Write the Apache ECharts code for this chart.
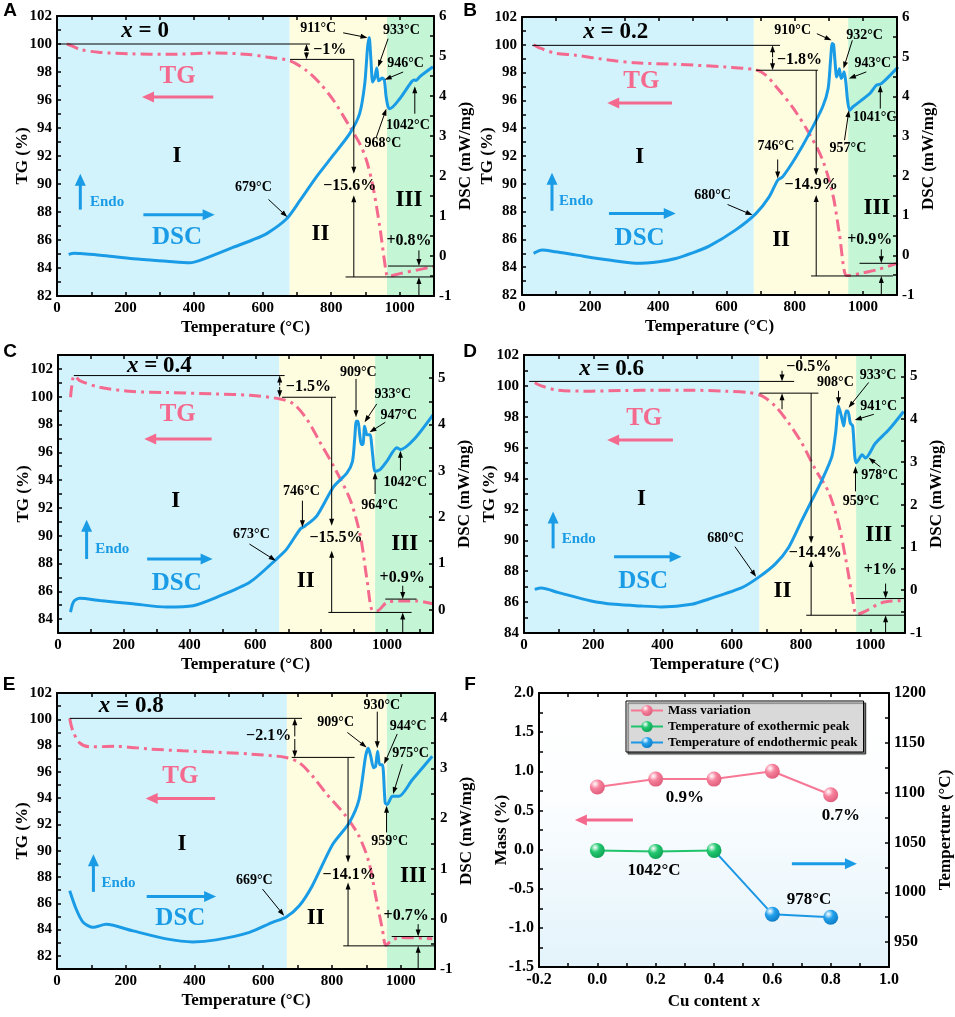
<!DOCTYPE html>
<html lang="en">
<head>
<meta charset="UTF-8">
<title>TG-DSC</title>
<script src="https://cdn.jsdelivr.net/npm/echarts@6/dist/echarts.min.js"></script>
<style>
    html, body { margin: 0; padding: 0; background: #fff; }
    #main { width: 955px; height: 1017px; }
</style>
</head>
<body>
<div id="main"></div>
<script>
// ---------- data ----------
// TG (%) and DSC (mW/mg) vs temperature (°C)
var tgA = [[29,100.0],[45,99.85],[68,99.6],[126,99.4],[220,99.3],[320,99.26],[466,99.36],[560,99.25],[612,99.07],[680,98.8],[728,98.1],[767,97.2],[806,96.0],[854,94.1],[883,92.9],[903,91.7],[922,89.8],[942,86.9],[961,83.6],[966,83.4],[1000,83.6],[1050,83.85],[1097,84.1]];
var dscA = [[34,0.04],[50,0.07],[68,0.06],[126,0.02],[223,-0.07],[320,-0.13],[388,-0.17],[417,-0.11],[515,0.22],[570,0.4],[612,0.56],[670,0.93],[709,1.39],[757,1.98],[806,2.52],[854,3.06],[883,3.56],[898,4.31],[906,5.2],[911,5.46],[916,4.9],[921,4.35],[927,4.45],[933,4.7],[938,4.38],[942,4.4],[948,4.45],[955,4.4],[960,4.0],[966,3.73],[971,3.68],[1000,3.93],[1034,4.35],[1042,4.4],[1048,4.39],[1058,4.48],[1097,4.73]];

var tgB = [[34,100.0],[49,99.8],[98,99.4],[157,99.25],[255,98.9],[333,98.7],[451,98.6],[598,98.4],[686,98.2],[716,97.8],[745,97.0],[794,95.5],[843,93.6],[882,91.7],[912,89.2],[931,86.4],[951,83.4],[961,83.4],[1000,83.6],[1039,83.8],[1103,84.3]];
var dscB = [[34,0.05],[59,0.13],[98,0.09],[157,0.01],[255,-0.12],[333,-0.2],[402,-0.16],[451,-0.08],[500,0.06],[549,0.23],[627,0.64],[686,1.05],[725,1.47],[750,1.89],[765,1.98],[804,2.48],[843,3.07],[882,3.74],[898,4.2],[905,4.9],[910,5.33],[914,5.3],[918,4.9],[923,4.49],[928,4.6],[931,4.7],[936,4.45],[940,4.5],[945,4.62],[950,4.35],[955,3.9],[961,3.65],[971,3.74],[1020,4.07],[1039,4.28],[1054,4.32],[1103,4.74]];

var tgC = [[38,99.96],[45,101.3],[50,101.5],[66,101.16],[127,100.68],[228,100.37],[330,100.3],[482,100.2],[584,100.1],[675,99.84],[716,99.48],[756,98.4],[797,96.7],[838,95.0],[888,92.6],[919,90.0],[939,86.9],[957,84.6],[970,84.6],[1000,85.2],[1041,85.3],[1091,85.3],[1140,85.1]];
var dscC = [[38,-0.05],[44,0.12],[50,0.2],[66,0.25],[127,0.2],[228,0.13],[330,0.06],[411,0.09],[482,0.27],[584,0.6],[665,1.1],[695,1.31],[736,1.74],[751,1.81],[787,2.03],[838,2.66],[878,2.95],[895,3.2],[902,3.7],[907,4.07],[912,4.07],[917,3.8],[922,3.57],[927,3.57],[932,3.96],[936,3.85],[939,3.78],[949,3.78],[953,3.6],[957,3.32],[964,2.99],[980,3.03],[1000,3.21],[1030,3.5],[1041,3.46],[1081,3.67],[1140,4.21]];

var tgD = [[31,100.2],[50,100.0],[98,99.72],[194,99.66],[291,99.7],[388,99.72],[484,99.72],[581,99.66],[648,99.57],[687,99.35],[725,98.7],[764,97.6],[802,96.3],[841,94.6],[880,93.1],[908,91.1],[928,88.9],[947,86.5],[961,85.2],[985,85.4],[1034,85.97],[1096,86.1]];
var dscD = [[31,0.02],[50,0.05],[98,-0.05],[194,-0.25],[262,-0.33],[339,-0.37],[397,-0.39],[484,-0.33],[532,-0.21],[629,0.06],[677,0.3],[725,0.61],[764,1.0],[802,1.63],[831,2.1],[860,2.57],[889,3.13],[900,3.7],[908,4.31],[916,4.08],[923,3.84],[930,4.19],[935,4.19],[942,3.91],[949,3.84],[955,3.13],[959,2.98],[966,3.05],[976,3.17],[986,3.09],[1014,3.43],[1053,3.75],[1096,4.18]];

var tgE = [[37,100.07],[46,99.13],[66,98.2],[95,97.9],[172,97.94],[269,97.74],[366,97.6],[463,97.5],[560,97.36],[666,97.1],[705,96.7],[743,95.7],[782,94.4],[840,92.66],[879,91.1],[908,89.1],[927,86.6],[947,84.0],[957,82.8],[971,83.1],[997,83.4],[1092,83.3]];
var dscE = [[37,0.56],[56,0.19],[76,-0.07],[105,-0.17],[143,-0.11],[221,-0.24],[318,-0.40],[395,-0.46],[463,-0.42],[560,-0.27],[627,-0.07],[666,0.03],[705,0.26],[743,0.66],[802,1.48],[850,1.91],[879,2.38],[898,3.24],[906,3.4],[913,3.24],[921,3.01],[927,3.04],[933,3.34],[939,3.07],[947,3.07],[955,2.31],[961,2.28],[976,2.44],[995,2.44],[1034,2.77],[1092,3.24]];

// stage boundaries (°C): I | II | III
var zonesA = [679, 963];
var zonesB = [680, 957];
var zonesC = [673, 964];
var zonesD = [680, 959];
var zonesE = [669, 960];

// panel F
var cuX = [0, 0.2, 0.4, 0.6, 0.8];
var massVar = [0.8, 0.9, 0.9, 1.0, 0.7];
var exoX = [0, 0.2, 0.4];
var exoT = [1042, 1041, 1042];
var endoX = [0.6, 0.8];
var endoT = [978, 975];

// tick labels
var tempTicks = [0, 200, 400, 600, 800, 1000];
var tgTicks82 = [82, 84, 86, 88, 90, 92, 94, 96, 98, 100, 102];
var tgTicks84 = [84, 86, 88, 90, 92, 94, 96, 98, 100, 102];
var dscTicksA = [-1, 0, 1, 2, 3, 4, 5, 6];
var dscTicksC = [0, 1, 2, 3, 4, 5];
var dscTicksD = [-1, 0, 1, 2, 3, 4, 5];
var dscTicksE = [-1, 0, 1, 2, 3, 4];
var cuTicks = [-0.2, 0, 0.2, 0.4, 0.6, 0.8, 1.0];
var massTicks = [-1.5, -1.0, -0.5, 0, 0.5, 1.0, 1.5, 2.0];
var tempFTicks = [950, 1000, 1050, 1100, 1150, 1200];

// ---------- annotations (temperature, TG value) ----------
// ['t', T, v, text, kind] text; ['l', T1, v1, T2, v2] line; ['a', T1, v1, T2, v2, kind] arrow
var annA = [
    ['t',257,100.9,'{i|x} = 0','big'],
    ['l',5,100.0,738,100.0], ['l',680,98.9,866,98.9],
    ['a',728,99.5,728,100.0], ['a',728,99.4,728,98.9],
    ['t',796,99.55,'−1%','pct'],
    ['a',866,98.9,866,90.74], ['t',854,89.9,'−15.6%','pct'], ['a',866,83.36,866,89.19],
    ['l',842,83.36,1100,83.36], ['t',1027,85.93,'+0.8%','pct'], ['l',966,84.14,1100,84.14],
    ['a',1056,85.26,1056,84.14], ['a',1056,82,1056,83.36],
    ['t',352,97.7,'TG','tg'], ['a',456,96.21,248,96.21,'p'],
    ['t',350,91.98,'I','rom'], ['t',146,88.7,'Endo','endo'], ['a',68,88.17,68,90.74,'b'],
    ['a',252,87.81,460,87.81,'b'], ['t',350,86.14,'DSC','dsc'],
    ['t',769,86.45,'II','rom'], ['t',1027,88.83,'III','rom'],
    ['t',762,101.1,'911°C'], ['a',835,100.8,906,100.45],
    ['t',1005,100.98,'933°C'], ['a',966,100.38,937,98.36],
    ['t',1017,98.6,'946°C'], ['a',1010,98.0,956,97.45],
    ['t',1024,94.19,'1042°C'], ['a',1044,95.02,1044,96.98],
    ['t',951,92.88,'968°C'], ['a',932,93.36,961,95.38],
    ['t',573,89.74,'679°C'], ['a',617,88.9,672,87.64]
];
var annB = [
    ['t',275,100.9,'{i|x} = 0.2','big'],
    ['l',30,99.96,757,99.96], ['l',686,98.17,868,98.17],
    ['a',735,99.1,735,99.96], ['a',735,99.0,735,98.17],
    ['t',814,98.93,'−1.8%','pct'],
    ['a',863,98.17,863,90.62], ['t',848,89.9,'−14.9%','pct'], ['a',863,83.37,863,89.19],
    ['l',848,83.37,1088,83.37], ['t',1020,85.95,'+0.9%','pct'], ['l',990,84.28,1100,84.28],
    ['a',1054,85.28,1054,84.28], ['a',1054,82,1054,83.37],
    ['t',350,97.33,'TG','tg'], ['a',440,95.82,250,95.82,'p'],
    ['t',345,91.94,'I','rom'], ['t',159,88.78,'Endo','endo'], ['a',88,88.06,88,90.79,'b'],
    ['a',255,87.87,451,87.87,'b'], ['t',345,86.07,'DSC','dsc'],
    ['t',760,85.95,'II','rom'], ['t',1041,88.23,'III','rom'],
    ['t',794,101.04,'910°C'], ['a',865,100.8,908,100.32],
    ['t',1005,100.68,'932°C'], ['a',969,100.32,943,98.29],
    ['t',1029,98.69,'943°C'], ['a',1010,98.05,959,97.57],
    ['t',1034,94.81,'1041°C'], ['a',1051,95.41,1051,97.09],
    ['t',956,92.54,'957°C'], ['a',946,93.14,959,95.29],
    ['t',745,92.66,'746°C'], ['a',750,91.75,750,90.38],
    ['t',559,89.19,'680°C'], ['a',603,88.51,676,87.75]
];
var annC = [
    ['t',308,102.19,'{i|x} = 0.4','big'],
    ['l',48,101.52,689,101.52], ['l',681,99.96,845,99.96],
    ['a',674,100.8,674,101.52], ['a',674,100.7,674,99.96],
    ['t',761,100.68,'−1.5%','pct'],
    ['a',832,99.96,832,90.72], ['t',845,89.81,'−15.5%','pct'], ['a',832,84.48,832,88.92],
    ['l',822,84.48,1075,84.48], ['t',1046,87.0,'+0.9%','pct'], ['l',995,85.44,1090,85.44],
    ['a',1048,86.4,1048,85.44], ['a',1048,83.04,1048,84.48],
    ['t',364,98.69,'TG','tg'], ['a',467,96.96,262,96.96,'p'],
    ['t',358,92.52,'I','rom'], ['t',165,89.04,'Endo','endo'], ['a',87,88.32,87,91.15,'b'],
    ['a',271,88.32,470,88.32,'b'], ['t',361,86.59,'DSC','dsc'],
    ['t',753,86.76,'II','rom'], ['t',1054,89.4,'III','rom'],
    ['t',913,101.76,'909°C'], ['a',906,101.28,906,98.52],
    ['t',1018,100.2,'933°C'], ['a',969,99.48,932,98.16],
    ['t',1036,98.69,'947°C'], ['a',995,98.16,947,97.44],
    ['t',1056,93.84,'1042°C'], ['a',1041,94.68,1041,96.12],
    ['t',978,92.21,'964°C'], ['a',964,93.0,964,94.56],
    ['t',740,93.17,'746°C'], ['a',743,92.52,743,90.6],
    ['t',588,90.12,'673°C'], ['a',582,89.4,662,88.2]
];
var annD = [
    ['t',253,101.09,'{i|x} = 0.6','big'],
    ['l',15,100.29,780,100.29], ['l',680,99.53,850,99.53],
    ['a',745,100.98,745,100.29], ['a',745,98.49,745,99.53],
    ['t',822,101.24,'−0.5%','pct'],
    ['a',829,99.53,829,89.81], ['t',841,89.2,'−14.4%','pct'], ['a',829,85.15,829,88.72],
    ['l',815,85.15,1100,85.15], ['t',1029,88.12,'+1%','pct'], ['l',958,86.23,1099,86.23],
    ['a',1044,87.2,1044,86.23], ['a',1044,84.04,1044,85.15],
    ['t',347,97.88,'TG','tg'], ['a',430,96.49,240,96.49,'p'],
    ['t',339,92.67,'I','rom'], ['t',158,90.07,'Endo','endo'], ['a',84,89.48,84,91.87,'b'],
    ['a',260,88.94,455,88.94,'b'], ['t',344,87.31,'DSC','dsc'],
    ['t',746,86.73,'II','rom'], ['t',1024,90.35,'III','rom'],
    ['t',899,100.22,'908°C'], ['a',908,99.68,908,98.81],
    ['t',1022,100.7,'933°C'], ['a',995,100.22,937,98.59],
    ['t',1024,98.66,'941°C'], ['a',1010,98.16,955,97.79],
    ['t',1027,94.19,'978°C'], ['a',1029,94.75,995,95.34],
    ['t',973,92.52,'959°C'], ['a',957,93.17,957,94.8],
    ['t',582,90.13,'680°C'], ['a',609,89.59,670,87.64]
];
var annE = [
    ['t',216,101.04,'{i|x} = 0.8','big'],
    ['l',37,100.07,713,100.07], ['l',683,97.1,866,97.1],
    ['a',692,98.7,692,100.07], ['a',692,98.5,692,97.1],
    ['t',616,98.75,'−2.1%','pct'],
    ['a',847,97.1,847,89.11], ['t',850,88.14,'−14.1%','pct'], ['a',847,82.76,847,87.58],
    ['l',833,82.76,1100,82.76], ['t',1016,85.05,'+0.7%','pct'], ['l',974,83.47,1095,83.47],
    ['a',1051,84.41,1051,83.47], ['a',1051,81.04,1051,82.76],
    ['t',359,95.65,'TG','tg'], ['a',460,93.98,258,93.98,'p'],
    ['t',364,90.5,'I','rom'], ['t',179,87.51,'Endo','endo'], ['a',106,86.87,106,89.74,'b'],
    ['a',261,86.52,463,86.52,'b'], ['t',359,84.84,'DSC','dsc'],
    ['t',753,84.84,'II','rom'], ['t',1037,88.09,'III','rom'],
    ['t',811,99.77,'909°C'], ['a',845,99.0,901,97.86],
    ['t',945,101.04,'930°C'], ['a',932,100.58,932,97.79],
    ['t',1022,99.46,'944°C'], ['a',990,98.88,952,96.59],
    ['t',1029,97.41,'975°C'], ['a',1005,96.59,978,94.31],
    ['t',968,90.68,'959°C'], ['a',959,91.39,959,93.42],
    ['t',574,87.76,'669°C'], ['a',598,87.08,661,85.05]
];
// panel F annotations (Cu content, mass %)
var annF = [
    ['t',0.30,0.67,'0.9%','pctF'], ['t',0.835,0.44,'0.7%','pctF'],
    ['t',0.194,-0.27,'1042°C','pctF'], ['t',0.726,-0.64,'978°C','pctF'],
    ['a',0.122,0.378,-0.077,0.378,'p'], ['a',0.667,-0.18,0.89,-0.18,'b']
];

// ---------- styles / layout ----------
var SERIF = '"Liberation Serif", "Times New Roman", serif';
var PINK = '#f46a8e';
var BLUE = '#1a9be6';
var GREEN = '#1fc46c';
var ZONE = ['#d3f3fc', '#fefde0', '#c4f5d5'];

var panels = [
    {tg: tgA, dsc: dscA, box: [57, 16, 377, 280], x: [0, 1100], tgR: [82, 102], tgT: tgTicks82, dR: [-1, 6], dT: dscTicksA, zones: zonesA, ann: annA},
    {tg: tgB, dsc: dscB, box: [522, 17, 375, 278], x: [0, 1100], tgR: [82, 102], tgT: tgTicks82, dR: [-1, 6], dT: dscTicksA, zones: zonesB, ann: annB},
    {tg: tgC, dsc: dscC, box: [58, 355, 375, 278], x: [0, 1140], tgR: [83, 103], tgT: tgTicks84, dR: [-0.5, 5.5], dT: dscTicksC, zones: zonesC, ann: annC},
    {tg: tgD, dsc: dscD, box: [524, 355, 381, 278], x: [0, 1100], tgR: [84, 102], tgT: tgTicks84, dR: [-1, 5.5], dT: dscTicksD, zones: zonesD, ann: annD},
    {tg: tgE, dsc: dscE, box: [57, 693, 378, 276], x: [0, 1100], tgR: [81, 102], tgT: tgTicks82, dR: [-1, 4.5], dT: dscTicksE, zones: zonesE, ann: annE}
];
var boxF = [539, 693, 350, 274];

var textKinds = {
    lbl:  {font: 'bold 14px ' + SERIF, fill: '#000'},
    pct:  {font: 'bold 16px ' + SERIF, fill: '#000'},
    pctF: {font: 'bold 17px ' + SERIF, fill: '#000'},
    big:  {font: 'bold 23px ' + SERIF, fill: '#000'},
    rom:  {font: 'bold 23px ' + SERIF, fill: '#000'},
    tg:   {font: 'bold 25px ' + SERIF, fill: PINK},
    dsc:  {font: 'bold 25px ' + SERIF, fill: BLUE},
    endo: {font: 'bold 15px ' + SERIF, fill: BLUE}
};
var arrowKinds = {
    k: {color: '#000', w: 1, hl: 7, hw: 2.5},
    p: {color: PINK, w: 3, hl: 12, hw: 5.5},
    b: {color: BLUE, w: 3, hl: 12, hw: 5.5}
};

// major ticks plus a minor one halfway between
function withMinor(ticks, lo, hi) {
    var out = ticks.slice();
    var h = (ticks[1] - ticks[0]) / 2;
    ticks.forEach(function (t) {
        if (t + h <= hi + 1e-9) out.push(t + h);
    });
    if (ticks[0] - h >= lo - 1e-9) out.push(ticks[0] - h);
    return out;
}

var labelFont = {fontFamily: SERIF, fontWeight: 'bold', fontSize: 15, color: '#000'};
var nameFont = {fontFamily: SERIF, fontWeight: 'bold', fontSize: 17, color: '#000'};

function valueAxis(gi, pos, range, ticks, showLabels, fmt, name, gap) {
    var ax = {
        gridIndex: gi, type: 'value', position: pos, min: range[0], max: range[1], z: 5,
        axisLine: {show: true, onZero: false, lineStyle: {color: '#000', width: 2}},
        axisTick: {show: true, inside: true, length: 4, customValues: withMinor(ticks, range[0], range[1]), lineStyle: {color: '#000', width: 1.5}},
        axisLabel: {show: showLabels, customValues: ticks, margin: 5, formatter: fmt},
        splitLine: {show: false}
    };
    for (var k in labelFont) ax.axisLabel[k] = labelFont[k];
    if (name) {
        ax.name = name;
        ax.nameLocation = 'middle';
        ax.nameGap = gap;
        ax.nameMoveOverlap = false;
        ax.nameTextStyle = JSON.parse(JSON.stringify(nameFont));
        if (pos === 'left' || pos === 'right') ax.nameRotate = 90;
    }
    return ax;
}
function fmtInt(v) { return String(Math.round(v)); }
function fmt1(v) { return v.toFixed(1); }

var grids = [], xAxes = [], yAxes = [], series = [];

panels.forEach(function (p, i) {
    grids.push({left: p.box[0], top: p.box[1], width: p.box[2], height: p.box[3], show: false});
    xAxes.push(valueAxis(i, 'bottom', p.x, tempTicks, true, fmtInt, 'Temperature (°C)', 23));
    xAxes.push(valueAxis(i, 'top', p.x, tempTicks, false, fmtInt));
    yAxes.push(valueAxis(i, 'left', p.tgR, p.tgT, true, fmtInt, 'TG (%)', 26));
    yAxes.push(valueAxis(i, 'right', p.dR, p.dT, true, fmtInt, 'DSC (mW/mg)', 23));

    var z = p.zones;
    series.push({
        type: 'line', xAxisIndex: 2 * i, yAxisIndex: 2 * i, data: p.tg, z: 1, silent: true,
        symbol: 'none', lineStyle: {opacity: 0},
        markArea: {
            silent: true,
            data: [
                [{xAxis: p.x[0], itemStyle: {color: ZONE[0]}}, {xAxis: z[0]}],
                [{xAxis: z[0], itemStyle: {color: ZONE[1]}}, {xAxis: z[1]}],
                [{xAxis: z[1], itemStyle: {color: ZONE[2]}}, {xAxis: p.x[1]}]
            ]
        }
    });
    series.push({
        type: 'line', xAxisIndex: 2 * i, yAxisIndex: 2 * i, data: p.tg, z: 3,
        symbol: 'none', smooth: 0.3, silent: true,
        lineStyle: {color: PINK, width: 3, type: [12, 5, 3, 5]}
    });
    series.push({
        type: 'line', xAxisIndex: 2 * i, yAxisIndex: 2 * i + 1, data: p.dsc, z: 4,
        symbol: 'none', smooth: 0.25, silent: true,
        lineStyle: {color: BLUE, width: 3}
    });
});

// panel F
var gF = panels.length;
grids.push({
    left: boxF[0], top: boxF[1], width: boxF[2], height: boxF[3], show: true, borderWidth: 0,
    backgroundColor: new echarts.graphic.LinearGradient(0, 0, 0, 1, [
        {offset: 0, color: '#ffffff'}, {offset: 0.35, color: '#fdfeff'}, {offset: 1, color: '#e3f3fb'}
    ])
});
var xF = valueAxis(gF, 'bottom', [-0.2, 1.0], cuTicks, true, fmt1, 'Cu content {i|x}', 26);
xF.axisLabel.fontSize = 16;
xF.nameTextStyle.rich = {i: {fontStyle: 'italic', fontWeight: 'bold', fontSize: 17, fontFamily: SERIF}};
xAxes.push(xF);
xAxes.push(valueAxis(gF, 'top', [-0.2, 1.0], cuTicks, false, fmt1));
var yF = valueAxis(gF, 'left', [-1.5, 2.0], massTicks, true, fmt1, 'Mass (%)', 29);
yF.axisLabel.fontSize = 16;
yAxes.push(yF);
var yF2 = valueAxis(gF, 'right', [925, 1200], tempFTicks, true, fmtInt, 'Temperture (°C)', 48);
yF2.axisLabel.fontSize = 16;
yAxes.push(yF2);

function ball(c, dark) {
    return new echarts.graphic.RadialGradient(0.35, 0.3, 0.7, [
        {offset: 0, color: '#ffffff'}, {offset: 0.45, color: c}, {offset: 1, color: dark}
    ]);
}
var massData = cuX.map(function (x, i) { return [x, massVar[i]]; });
var exoData = exoX.map(function (x, i) { return [x, exoT[i]]; });
var endoData = [{value: [exoX[exoX.length - 1], exoT[exoT.length - 1]], symbolSize: 0}]
    .concat(endoX.map(function (x, i) { return [x, endoT[i]]; }));

series.push({
    name: 'Mass variation', type: 'line', xAxisIndex: 2 * gF, yAxisIndex: 2 * gF, data: massData,
    symbol: 'circle', symbolSize: 15, z: 5,
    lineStyle: {color: '#f77895', width: 2},
    itemStyle: {color: ball('#f7819c', '#e0607e')}
});
series.push({
    name: 'Temperature of endothermic peak', type: 'line', xAxisIndex: 2 * gF, yAxisIndex: 2 * gF + 1, data: endoData,
    symbol: 'circle', symbolSize: 15, z: 4,
    lineStyle: {color: '#1b97e4', width: 2},
    itemStyle: {color: ball('#22a0ec', '#0f7fc8')}
});
series.push({
    name: 'Temperature of exothermic peak', type: 'line', xAxisIndex: 2 * gF, yAxisIndex: 2 * gF + 1, data: exoData,
    symbol: 'circle', symbolSize: 15, z: 6,
    lineStyle: {color: GREEN, width: 2},
    itemStyle: {color: ball('#22c870', '#10a556')}
});

var chart = echarts.init(document.getElementById('main'));
chart.setOption({
    animation: false,
    backgroundColor: '#fff',
    grid: grids,
    xAxis: xAxes,
    yAxis: yAxes,
    series: series,
    legend: {
        data: ['Mass variation', 'Temperature of exothermic peak', 'Temperature of endothermic peak'],
        orient: 'vertical', left: 626, top: 701, itemGap: 3, itemWidth: 32, itemHeight: 14,
        padding: [3, 6, 3, 4], borderColor: '#000', borderWidth: 1,
        backgroundColor: 'rgba(255,255,255,0.7)',
        shadowColor: 'rgba(0,0,0,0.7)', shadowBlur: 1, shadowOffsetX: 2, shadowOffsetY: 2,
        textStyle: {fontFamily: SERIF, fontWeight: 'bold', fontSize: 13, color: '#000'},
        selectedMode: false
    }
});

// ---------- annotations drawn in data coordinates ----------
var els = [];
function textEl(pt, str, kind) {
    var st = textKinds[kind || 'lbl'];
    var el = {
        type: 'text', z: 100, silent: true,
        style: {
            x: pt[0], y: pt[1], text: str, font: st.font, fill: st.fill,
            textAlign: 'center', textVerticalAlign: 'middle', align: 'center', verticalAlign: 'middle'
        }
    };
    if (str.indexOf('{i|') >= 0) {
        var size = parseInt(st.font.match(/(\d+)px/)[1], 10);
        el.style.rich = {i: {fontStyle: 'italic', fontWeight: 'bold', fontSize: size, fontFamily: SERIF}};
    }
    return el;
}
function lineEl(a, b, color, w) {
    return {type: 'line', z: 100, silent: true, shape: {x1: a[0], y1: a[1], x2: b[0], y2: b[1]}, style: {stroke: color, lineWidth: w}};
}
function arrowEl(a, b, kind) {
    var k = arrowKinds[kind || 'k'];
    var dx = b[0] - a[0], dy = b[1] - a[1];
    var len = Math.sqrt(dx * dx + dy * dy) || 1;
    var ux = dx / len, uy = dy / len;
    var bx = b[0] - ux * k.hl, by = b[1] - uy * k.hl;
    els.push(lineEl(a, [bx + ux, by + uy], k.color, k.w));
    els.push({
        type: 'polygon', z: 100, silent: true,
        shape: {points: [[b[0], b[1]], [bx - uy * k.hw, by + ux * k.hw], [bx + uy * k.hw, by - ux * k.hw]]},
        style: {fill: k.color}
    });
}
function drawAnn(list, gi) {
    function px(t, v) {
        return chart.convertToPixel({xAxisIndex: 2 * gi, yAxisIndex: 2 * gi}, [t, v]);
    }
    list.forEach(function (a) {
        if (a[0] === 't') els.push(textEl(px(a[1], a[2]), a[3], a[4]));
        else if (a[0] === 'l') els.push(lineEl(px(a[1], a[2]), px(a[3], a[4]), '#000', 1));
        else if (a[0] === 'a') arrowEl(px(a[1], a[2]), px(a[3], a[4]), a[5]);
    });
}
panels.forEach(function (p, i) { drawAnn(p.ann, i); });
drawAnn(annF, gF);

// panel letters
var letterFont = 'bold 19px "Liberation Sans", Arial, sans-serif';
[['A', 10, 11], ['B', 470, 11], ['C', 10, 352], ['D', 470, 352], ['E', 9, 685], ['F', 470, 685]].forEach(function (l) {
    els.push({
        type: 'text', z: 100, silent: true,
        style: {x: l[1], y: l[2], text: l[0], font: letterFont, fill: '#000',
            textAlign: 'center', textVerticalAlign: 'middle', align: 'center', verticalAlign: 'middle'}
    });
});

chart.setOption({graphic: {elements: els}});
</script>
</body>
</html>
